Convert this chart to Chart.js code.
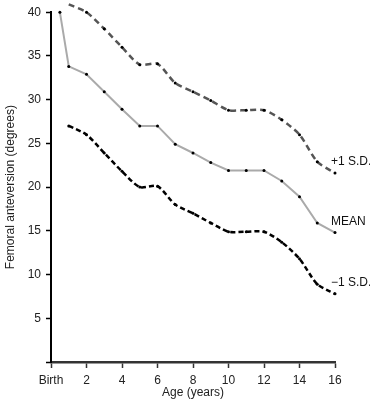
<!DOCTYPE html>
<html>
<head>
<meta charset="utf-8">
<script src="https://cdn.jsdelivr.net/npm/chart.js@4/dist/chart.umd.min.js"></script>
<style>
  html, body { margin: 0; padding: 0; background: #fff; }
  #wrap { width: 370px; height: 411px; }
</style>
</head>
<body>
<div id="wrap"><canvas id="anteversion_chart"></canvas></div>
<script>
// ages in years (Birth = 0)
const ages = [1, 2, 3, 4, 5, 6, 7, 8, 9, 10, 11, 12, 13, 14, 15, 16];
const meanAges = [0.5, 1, 2, 3, 4, 5, 6, 7, 8, 9, 10, 11, 12, 13, 14, 15, 16];

const plusSD = [40.9, 40.0, 38.1, 36.0, 34.0, 34.1, 31.9, 30.9, 29.9, 28.8, 28.8, 28.8, 27.7, 26.0, 22.9, 21.6];
const mean = [40.0, 33.8, 32.9, 30.9, 28.9, 27.0, 27.0, 24.9, 23.9, 22.8, 21.9, 21.9, 21.9, 20.7, 18.9, 15.9, 14.8];
const minusSD = [27.0, 26.0, 23.9, 21.8, 20.0, 20.1, 18.0, 17.0, 15.9, 14.9, 14.9, 14.9, 13.7, 11.8, 8.9, 7.8];

const lineLabels = ['+1 S.D.', 'MEAN', '\u22121 S.D.'];
const xTicks = [0, 2, 4, 6, 8, 10, 12, 14, 16];

const toPoints = (xs, ys) => xs.map((x, i) => ({ x: x, y: ys[i] }));

// writes the series name just above the last point of each line
const endLabels = {
  id: 'endLabels',
  afterDatasetsDraw(chart) {
    const ctx = chart.ctx;
    ctx.save();
    ctx.font = '12px "Liberation Sans", Arial, sans-serif';
    ctx.fillStyle = '#111';
    ctx.textAlign = 'left';
    ctx.textBaseline = 'middle';
    chart.data.datasets.forEach((ds, i) => {
      const pts = chart.getDatasetMeta(i).data;
      const last = pts[pts.length - 1];
      ctx.fillText(lineLabels[i], last.x - 4, last.y - 11);
    });
    ctx.restore();
  }
};

const font = { family: '"Liberation Sans", Arial, sans-serif', size: 12 };

new Chart(document.getElementById('anteversion_chart'), {
  type: 'line',
  data: {
    datasets: [{
      label: lineLabels[0],
      data: toPoints(ages, plusSD),
      borderColor: '#555',
      borderWidth: 2.5,
      borderDash: [6, 4],
      tension: 0.25,
      pointRadius: 1.5,
      pointBackgroundColor: '#000',
      pointBorderWidth: 0
    },
    {
      label: lineLabels[1],
      data: toPoints(meanAges, mean),
      borderColor: '#aaa',
      borderWidth: 2,
      tension: 0,
      pointRadius: 1.5,
      pointBackgroundColor: '#000',
      pointBorderWidth: 0
    },
    {
      label: lineLabels[2],
      data: toPoints(ages, minusSD),
      borderColor: '#000',
      borderWidth: 2.5,
      borderDash: [5, 3],
      tension: 0.25,
      pointRadius: 1.5,
      pointBackgroundColor: '#000',
      pointBorderWidth: 0
    }]
  },
  options: {
    responsive: true,
    maintainAspectRatio: false,
    animation: false,
    clip: false,
    layout: { padding: { top: 11, right: 35, left: 0, bottom: 0 } },
    plugins: {
      legend: { display: false },
      tooltip: { enabled: false }
    },
    scales: {
      x: {
        type: 'linear',
        min: 0,
        max: 16,
        afterBuildTicks: scale => { scale.ticks = xTicks.map(v => ({ value: v })); },
        afterFit: scale => { scale.height = 49; },
        ticks: {
          color: '#222',
          font: font,
          padding: 5,
          maxRotation: 0,
          callback: v => v === 0 ? 'Birth' : v
        },
        grid: {
          drawOnChartArea: false,
          drawTicks: true,
          tickLength: 6,
          tickColor: '#333',
          tickWidth: 1.5
        },
        border: { color: '#333', width: 2.5 },
        title: { display: true, text: 'Age (years)', color: '#222', font: font, padding: { top: 2, bottom: 11 } }
      },
      y: {
        min: 0,
        max: 40,
        afterFit: scale => { scale.width = 51; },
        ticks: {
          stepSize: 5,
          color: '#222',
          font: font,
          padding: 5,
          callback: v => v === 0 ? '' : v
        },
        grid: {
          drawOnChartArea: false,
          drawTicks: true,
          tickLength: 5,
          tickColor: '#000',
          tickWidth: 1.5
        },
        border: { color: '#000', width: 2 },
        title: { display: true, text: 'Femoral anteversion (degrees)', color: '#222', font: font, padding: { top: 3, bottom: 0 } }
      }
    }
  },
  plugins: [endLabels]
});
</script>
</body>
</html>
